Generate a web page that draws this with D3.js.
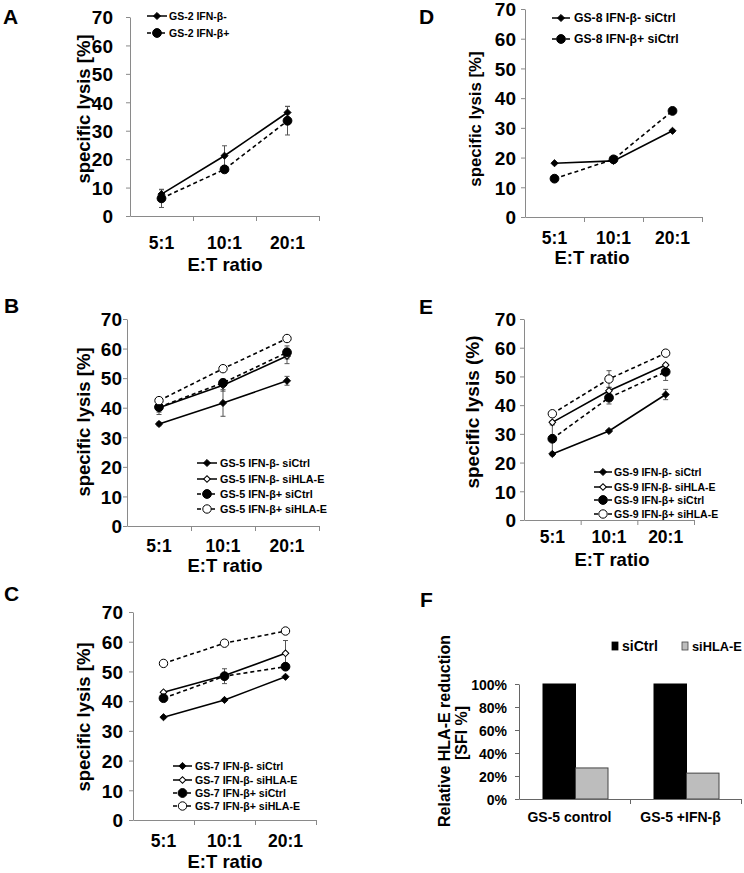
<!DOCTYPE html>
<html><head><meta charset="utf-8">
<script src="https://cdn.jsdelivr.net/npm/d3@7"></script>
<style>
body{margin:0;background:#fff}
svg text{font-family:"Liberation Sans",Arial,sans-serif;font-weight:bold;fill:#000}
</style>
</head><body><svg id="c" width="744" height="873"></svg>
<script>
// ---------- DATA ----------
const ratios = ["5:1","10:1","20:1"];
const lysisTicks = [0,10,20,30,40,50,60,70];

// Panel A (GS-2)
const aNames = ["GS-2 IFN-β-","GS-2 IFN-β+"];
const aNeg = [7.7,21.2,36.4], aNegErr = [1.5,3.5,2.2];
const aPos = [6.2,16.4,33.5], aPosErr = [3.2,0.5,5.0];

// Panel B (GS-5)
const bNames = ["GS-5 IFN-β- siCtrl","GS-5 IFN-β- siHLA-E","GS-5 IFN-β+ siCtrl","GS-5 IFN-β+ siHLA-E"];
const bNegCtrl = [34.5,41.6,49.1], bNegCtrlErr = [0.6,4.5,1.5];
const bNegHLA  = [40.0,47.6,57.5], bNegHLAErr  = [1.5,2.0,2.6];
const bPosCtrl = [40.2,48.4,58.7], bPosCtrlErr = [2.5,1.2,2.2];
const bPosHLA  = [42.4,53.2,63.4], bPosHLAErr  = [0.4,0.4,0.4];

// Panel C (GS-7)
const cNames = ["GS-7 IFN-β- siCtrl","GS-7 IFN-β- siHLA-E","GS-7 IFN-β+ siCtrl","GS-7 IFN-β+ siHLA-E"];
const cNegCtrl = [34.6,40.4,48.2], cNegCtrlErr = [0.4,0.4,0.4];
const cNegHLA  = [43.0,48.6,56.1], cNegHLAErr  = [0.4,0.8,4.3];
const cPosCtrl = [41.0,48.4,51.6], cPosCtrlErr = [0.5,2.5,0.6];
const cPosHLA  = [52.7,59.5,63.6], cPosHLAErr  = [0.4,0.4,0.4];

// Panel D (GS-8)
const dNames = ["GS-8 IFN-β- siCtrl","GS-8 IFN-β+ siCtrl"];
const dNeg = [18.1,18.9,29.0], dNegErr = [0.3,0.4,0.4];
const dPos = [12.9,19.4,35.7], dPosErr = [0.3,1.0,0.5];

// Panel E (GS-9)
const eNames = ["GS-9 IFN-β- siCtrl","GS-9 IFN-β- siHLA-E","GS-9 IFN-β+ siCtrl","GS-9 IFN-β+ siHLA-E"];
const eNegCtrl = [23.0,31.0,43.7], eNegCtrlErr = [0.6,0.4,1.8];
const eNegHLA  = [34.0,45.0,54.0], eNegHLAErr  = [0.6,1.2,0.5];
const ePosCtrl = [28.3,42.6,51.6], ePosCtrlErr = [4.8,2.2,3.0];
const ePosHLA  = [37.0,49.1,58.1], ePosHLAErr  = [0.5,2.9,0.4];

// Panel F
const fGroups = ["GS-5 control","GS-5 +IFN-β"];
const fSeries = ["siCtrl","siHLA-E"];
const fSiCtrl = [100,100];
const fSiHLA  = [27,22.5];
const fTicks  = [0,20,40,60,80,100];

// ---------- DRAWING ----------
const svg = d3.select("#c");
const AXIS = "#8a8a8a";
const ERR = "#555";

function marker(sel, type){
  // type: fd filled diamond, od open diamond, fc filled circle, oc open circle
  if(type==="fd"||type==="od"){
    sel.append("path").attr("d", d3.symbol(d3.symbolSquare, type==="fd"?26:22)())
      .attr("transform","rotate(45)")
      .attr("fill", type==="fd"?"#000":"#fff").attr("stroke","#000").attr("stroke-width",type==="fd"?0.8:1);
  } else {
    sel.append("circle").attr("r", type==="fc"?4.4:4.2)
      .attr("fill", type==="fc"?"#000":"#fff").attr("stroke","#000").attr("stroke-width",1);
  }
}

function linePanel(cfg){
  const g = svg.append("g");
  const x = d3.scaleBand().domain(ratios).range([cfg.x0, cfg.x1]);
  const y = d3.scaleLinear().domain([0,70]).range([cfg.yb, cfg.yt]);

  // y axis
  const ya = g.append("g").attr("transform",`translate(${cfg.x0},0)`)
    .call(d3.axisLeft(y).tickValues(lysisTicks).tickSize(4).tickSizeOuter(0).tickPadding(cfg.ypad));
  ya.attr("font-family",null);
  ya.select(".domain").attr("stroke",AXIS);
  ya.selectAll(".tick line").attr("stroke",AXIS);
  ya.selectAll(".tick text").attr("font-size",cfg.tickFs||19).attr("dy","0.36em");

  // x axis line and tick marks at category boundaries
  const xb = d3.scaleLinear().domain([0,ratios.length]).range([cfg.x0, cfg.x1]);
  const xa = g.append("g").attr("transform",`translate(0,${cfg.yb})`)
    .call(d3.axisBottom(xb).tickValues([1,2,3]).tickFormat("").tickSize(5).tickSizeOuter(0));
  xa.select(".domain").attr("stroke",AXIS);
  xa.selectAll(".tick line").attr("stroke",AXIS);

  // x tick labels
  g.selectAll(".xl").data(ratios).join("text")
    .attr("x", d=>x(d)+x.bandwidth()/2)
    .attr("y", cfg.xlBase).attr("text-anchor","middle").attr("font-size",cfg.xFs||17.5).text(d=>d);

  // axis titles
  g.append("text").attr("x",cfg.xtX).attr("y",cfg.xtBase).attr("text-anchor","middle")
    .attr("font-size",cfg.xtFs||18.5).text("E:T ratio");
  g.append("text").attr("transform",`translate(${cfg.ytX},${cfg.ytY}) rotate(-90)`)
    .attr("text-anchor","middle").attr("dy","0.36em").attr("font-size",cfg.ytFs||18.5).text(cfg.ytText);

  // panel letter
  g.append("text").attr("x",cfg.letX).attr("y",cfg.letY).attr("font-size",21).text(cfg.letter);

  const cx = d => x(d)+x.bandwidth()/2;

  // error bars
  cfg.series.forEach(s=>{
    s.values.forEach((v,i)=>{
      const e = s.err[i]; if(!e) return;
      const xx = cx(ratios[i]);
      const eg = g.append("g").attr("stroke",ERR).attr("stroke-width",1);
      eg.append("line").attr("x1",xx).attr("x2",xx).attr("y1",y(v-e)).attr("y2",y(v+e));
      eg.append("line").attr("x1",xx-2.5).attr("x2",xx+2.5).attr("y1",y(v-e)).attr("y2",y(v-e));
      eg.append("line").attr("x1",xx-2.5).attr("x2",xx+2.5).attr("y1",y(v+e)).attr("y2",y(v+e));
    });
  });
  // lines
  const line = d3.line().x((d,i)=>cx(ratios[i])).y(d=>y(d));
  cfg.series.forEach(s=>{
    g.append("path").datum(s.values).attr("d",line).attr("fill","none").attr("stroke","#000")
      .attr("stroke-width",1.6).attr("stroke-dasharray",s.dash?"4,3":null);
  });
  // markers
  cfg.series.forEach(s=>{
    s.values.forEach((v,i)=>{
      const mg = g.append("g").attr("transform",`translate(${cx(ratios[i])},${y(v)})`);
      marker(mg, s.mk);
    });
  });

  // legend
  const L = cfg.legend;
  cfg.series.forEach((s,k)=>{
    const yy = L.ys[k];
    const lg = g.append("g");
    lg.append("line").attr("x1",L.x0).attr("x2",L.x1).attr("y1",yy).attr("y2",yy)
      .attr("stroke","#000").attr("stroke-width",1.5).attr("stroke-dasharray",s.dash?"4,3":null);
    const mg = lg.append("g").attr("transform",`translate(${(L.x0+L.x1)/2},${yy})`);
    marker(mg, s.mk);
    lg.append("text").attr("x",L.tx).attr("y",yy).attr("dy","0.36em").attr("font-size",L.fs).text(s.name);
  });
}

linePanel({
  letter:"A", letX:3, letY:24,
  x0:130, x1:319, yb:216, yt:17, ypad:13,
  xlBase:249, xtX:225, xtBase:271, ytX:83, ytY:109, ytText:"specific lysis [%]",
  series:[
    {name:aNames[0], values:aNeg, err:aNegErr, mk:"fd", dash:false},
    {name:aNames[1], values:aPos, err:aPosErr, mk:"fc", dash:true}
  ],
  legend:{x0:147, x1:167, tx:169, ys:[16,33], fs:10.5}
});

linePanel({
  letter:"B", letX:4, letY:313,
  x0:127, x1:319, yb:526, yt:319, ypad:1,
  xlBase:552, xtX:225, xtBase:572, ytX:83, ytY:422, ytText:"specific lysis [%]",
  series:[
    {name:bNames[0], values:bNegCtrl, err:bNegCtrlErr, mk:"fd", dash:false},
    {name:bNames[1], values:bNegHLA, err:bNegHLAErr, mk:"od", dash:false},
    {name:bNames[2], values:bPosCtrl, err:bPosCtrlErr, mk:"fc", dash:true},
    {name:bNames[3], values:bPosHLA, err:bPosHLAErr, mk:"oc", dash:true}
  ],
  legend:{x0:197, x1:217, tx:220, ys:[463,479,494,509], fs:10.8}
});

linePanel({
  letter:"C", letX:4, letY:601,
  x0:133, x1:316, yb:820, yt:612, ypad:6,
  xlBase:847, xtX:225, xtBase:868, ytX:83, ytY:717, ytText:"specific lysis [%]",
  series:[
    {name:cNames[0], values:cNegCtrl, err:cNegCtrlErr, mk:"fd", dash:false},
    {name:cNames[1], values:cNegHLA, err:cNegHLAErr, mk:"od", dash:false},
    {name:cNames[2], values:cPosCtrl, err:cPosCtrlErr, mk:"fc", dash:true},
    {name:cNames[3], values:cPosHLA, err:cPosHLAErr, mk:"oc", dash:true}
  ],
  legend:{x0:173, x1:192, tx:195, ys:[766,780,793,806], fs:10.6}
});

linePanel({
  letter:"D", letX:419, letY:24,
  x0:525, x1:702, yb:217, yt:9, ypad:5,
  xlBase:244, xtX:592, xtBase:264, ytX:475, ytY:119, ytText:"specific lysis [%]", ytFs:16.8,
  series:[
    {name:dNames[0], values:dNeg, err:dNegErr, mk:"fd", dash:false},
    {name:dNames[1], values:dPos, err:dPosErr, mk:"fc", dash:true}
  ],
  legend:{x0:552, x1:570, tx:574, ys:[18,39], fs:12.2}
});

linePanel({
  letter:"E", letX:419, letY:314,
  x0:524, x1:694, yb:520, yt:319, ypad:4,
  xlBase:543, xtX:612, xtBase:566, ytX:472, ytY:412, ytText:"specific lysis (%)", ytFs:19,
  series:[
    {name:eNames[0], values:eNegCtrl, err:eNegCtrlErr, mk:"fd", dash:false},
    {name:eNames[1], values:eNegHLA, err:eNegHLAErr, mk:"od", dash:false},
    {name:eNames[2], values:ePosCtrl, err:ePosCtrlErr, mk:"fc", dash:true},
    {name:eNames[3], values:ePosHLA, err:ePosHLAErr, mk:"oc", dash:true}
  ],
  legend:{x0:594, x1:612, tx:614, ys:[472,487,500,514], fs:10.5}
});

// ---------- Panel F ----------
(function(){
  const g = svg.append("g");
  const x0 = d3.scaleBand().domain(fGroups).range([519,741]);
  const x1 = d3.scaleBand().domain(fSeries).range([24,89]);
  const y = d3.scaleLinear().domain([0,100]).range([799,684]);
  const vals = {siCtrl:fSiCtrl, "siHLA-E":fSiHLA};
  const fill = {siCtrl:"#000", "siHLA-E":"#bdbdbd"};

  fSeries.forEach(s=>{
    g.selectAll(null).data(fGroups).join("rect")
      .attr("x", d=>x0(d)+x1(s)).attr("width", x1.bandwidth())
      .attr("y", (d,i)=>y(vals[s][i])).attr("height",(d,i)=>y(0)-y(vals[s][i]))
      .attr("fill", fill[s]).attr("stroke", s==="siCtrl"?"#000":"#444").attr("stroke-width",1);
  });

  const ya = g.append("g").attr("transform","translate(519,0)")
    .call(d3.axisLeft(y).tickValues(fTicks).tickFormat(d=>d+"%").tickSize(4).tickSizeOuter(0).tickPadding(8));
  ya.attr("font-family",null);
  ya.select(".domain").attr("stroke","#666");
  ya.selectAll(".tick line").attr("stroke","#666");
  ya.selectAll(".tick text").attr("font-size",14).attr("dy","0.36em");

  const xb = d3.scaleLinear().domain([0,fGroups.length]).range([519,741]);
  const xa = g.append("g").attr("transform","translate(0,799)")
    .call(d3.axisBottom(xb).tickValues([1,2]).tickFormat("").tickSize(5).tickSizeOuter(0));
  xa.select(".domain").attr("stroke","#666");
  xa.selectAll(".tick line").attr("stroke","#666");

  g.selectAll(".fx").data(fGroups).join("text")
    .attr("x", d=>x0(d)+x0.bandwidth()/2 - 5).attr("y",822).attr("text-anchor","middle")
    .attr("font-size",14).text(d=>d);

  g.append("text").attr("transform","translate(444,731) rotate(-90)").attr("text-anchor","middle")
    .attr("dy","0.36em").attr("font-size",16).text("Relative HLA-E reduction");
  g.append("text").attr("transform","translate(461,733) rotate(-90)").attr("text-anchor","middle")
    .attr("dy","0.36em").attr("font-size",16).text("[SFI %]");

  g.append("text").attr("x",420).attr("y",607).attr("font-size",21).text("F");

  // legend
  const lx = [612, 682];
  const fs = [14, 12.8];
  fSeries.forEach((s,i)=>{
    g.append("rect").attr("x",lx[i]).attr("y",642).attr("width",6).attr("height",8)
      .attr("fill",fill[s]).attr("stroke",i?"#444":"#000").attr("stroke-width",0.8);
    g.append("text").attr("x",lx[i]+10).attr("y",651).attr("font-size",fs[i]).text(s);
  });
})();
</script>
</body></html>
